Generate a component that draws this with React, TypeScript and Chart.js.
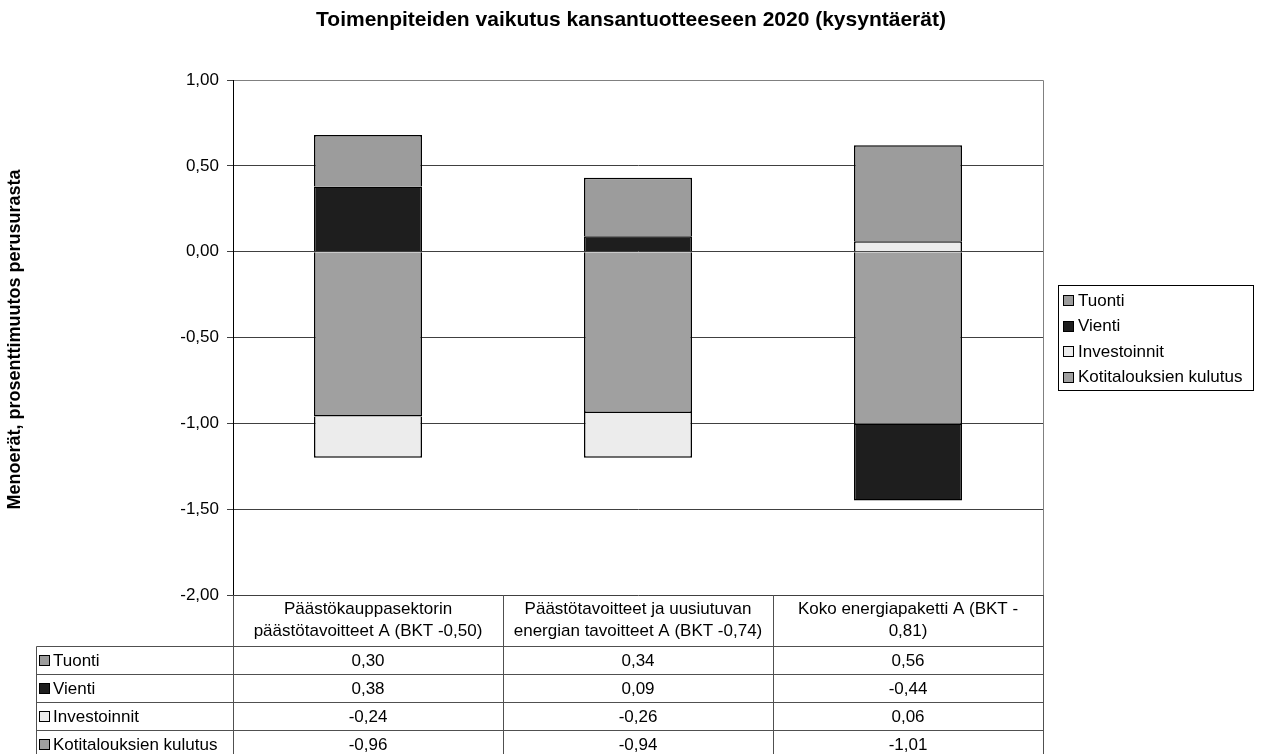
import React, { useEffect, useRef } from "react";
import { Chart, registerables } from "chart.js";

Chart.register(...registerables);

const TITLE = "Toimenpiteiden vaikutus kansantuotteeseen 2020 (kysyntäerät)";
const Y_TITLE = "Menoerät, prosenttimuutos perusurasta";

const categories: string[][] = [
  ["Päästökauppasektorin", "päästötavoitteet A (BKT -0,50)"],
  ["Päästötavoitteet ja uusiutuvan", "energian tavoitteet A (BKT -0,74)"],
  ["Koko energiapaketti A (BKT -", "0,81)"],
];

const seriesNames = ["Tuonti", "Vienti", "Investoinnit", "Kotitalouksien kulutus"];
const tuonti = [0.3, 0.34, 0.56];
const vienti = [0.38, 0.09, -0.44];
const investoinnit = [-0.24, -0.26, 0.06];
const kotitaloudet = [-0.96, -0.94, -1.01];
const seriesColors = ["#9c9c9c", "#1e1e1e", "#ececec", "#a0a0a0"];
const seriesValues = [tuonti, vienti, investoinnit, kotitaloudet];

const yMin = -2;
const yMax = 1;
const yStep = 0.5;

const FONT = "'Liberation Sans', Arial, sans-serif";

const fmt = (v: number) => v.toFixed(2).replace(".", ",");

const px = (v: number) => Math.round(v) + 0.5;

const decorPlugin = {
  id: "decor",
  beforeDatasetsDraw(chart: any) {
    const { ctx, chartArea } = chart;
    ctx.save();
    ctx.strokeStyle = "#808080";
    ctx.lineWidth = 1;
    ctx.beginPath();
    ctx.moveTo(px(chartArea.left), px(chartArea.top));
    ctx.lineTo(px(chartArea.right), px(chartArea.top));
    ctx.lineTo(px(chartArea.right), px(chartArea.bottom));
    ctx.stroke();
    ctx.restore();
  },
  afterDraw(chart: any) {
    const { ctx, chartArea } = chart;
    const xs = chart.scales.x;
    ctx.save();
    // title
    ctx.fillStyle = "#000";
    ctx.font = `bold 21px ${FONT}`;
    ctx.textAlign = "center";
    ctx.textBaseline = "middle";
    ctx.fillText(TITLE, 631, 20);

    // y axis title
    ctx.save();
    ctx.translate(15, (chartArea.top + chartArea.bottom) / 2 + 2);
    ctx.rotate(-Math.PI / 2);
    ctx.font = `bold 18px ${FONT}`;
    ctx.fillText(Y_TITLE, 0, 0);
    ctx.restore();

    // axis line on left
    ctx.strokeStyle = "#000";
    ctx.lineWidth = 1;
    ctx.beginPath();
    ctx.moveTo(px(chartArea.left), chartArea.top);
    ctx.lineTo(px(chartArea.left), chartArea.bottom);
    ctx.stroke();

    // data table
    const colW = (chartArea.right - chartArea.left) / categories.length;
    const tableTop = chartArea.bottom;
    const headerBottom = tableTop + 51;
    const rowH = 28;
    const tableLeft = 36;
    const tableBottom = headerBottom + rowH * seriesNames.length;
    ctx.strokeStyle = "#505050";
    for (let i = 0; i <= categories.length; i++) {
      const x = px(chartArea.left + colW * i);
      ctx.beginPath();
      ctx.moveTo(x, tableTop);
      ctx.lineTo(x, tableBottom);
      ctx.stroke();
    }
    ctx.beginPath();
    ctx.moveTo(px(tableLeft), px(headerBottom));
    ctx.lineTo(px(tableLeft), px(tableBottom));
    ctx.stroke();
    for (let r = 0; r <= seriesNames.length; r++) {
      const y = px(headerBottom + rowH * r);
      ctx.beginPath();
      ctx.moveTo(px(tableLeft), y);
      ctx.lineTo(px(chartArea.right), y);
      ctx.stroke();
    }
    // header labels
    ctx.fillStyle = "#000";
    ctx.font = `17px ${FONT}`;
    ctx.textAlign = "center";
    ctx.textBaseline = "middle";
    categories.forEach((lines, i) => {
      const cx = xs.getPixelForValue(i);
      lines.forEach((ln, j) => {
        ctx.fillText(ln, cx, tableTop + 14 + j * 22);
      });
    });
    // rows
    seriesNames.forEach((name, r) => {
      const cy = headerBottom + rowH * r + rowH / 2;
      ctx.fillStyle = seriesColors[r];
      ctx.fillRect(39.5, cy - 4.5, 10, 10);
      ctx.strokeStyle = "#000";
      ctx.strokeRect(39.5, cy - 4.5, 10, 10);
      ctx.fillStyle = "#000";
      ctx.textAlign = "left";
      ctx.fillText(name, 53, cy + 1);
      ctx.textAlign = "center";
      seriesValues[r].forEach((v, i) => {
        ctx.fillText(fmt(v), xs.getPixelForValue(i), cy + 1);
      });
    });

    // legend
    const lx = 1058, ly = 285, lw = 195, lh = 105;
    ctx.strokeStyle = "#000";
    ctx.strokeRect(lx + 0.5, ly + 0.5, lw, lh);
    seriesNames.forEach((name, r) => {
      const cy = ly + 15 + r * 25.5;
      ctx.fillStyle = seriesColors[r];
      ctx.fillRect(1063.5, Math.round(cy - 5) + 0.5, 10, 10);
      ctx.strokeStyle = "#000";
      ctx.strokeRect(1063.5, Math.round(cy - 5) + 0.5, 10, 10);
      ctx.fillStyle = "#000";
      ctx.textAlign = "left";
      ctx.fillText(name, 1078, cy + 1);
    });
    ctx.restore();
  },
};

export default function App() {
  const ref = useRef<HTMLCanvasElement | null>(null);
  useEffect(() => {
    if (!ref.current) return;
    // stacking order (base first): Kotitaloudet, Investoinnit, Vienti, Tuonti
    const stackOrder = [3, 2, 1, 0];
    const chart = new Chart(ref.current, {
      type: "bar",
      data: {
        labels: categories.map((c) => c.join(" ")),
        datasets: stackOrder.map((i) => ({
          label: seriesNames[i],
          data: seriesValues[i],
          backgroundColor: seriesColors[i],
          borderColor: "#000",
          borderWidth: 1.5,
          categoryPercentage: 1,
          barPercentage: 0.4,
        })),
      },
      options: {
        animation: false,
        responsive: false,
        devicePixelRatio: 1,
        layout: { padding: { top: 80, right: 220, bottom: 159, left: 0 } },
        plugins: {
          legend: { display: false },
          title: { display: false },
          tooltip: { enabled: false },
        },
        scales: {
          x: { stacked: true, display: false },
          y: {
            stacked: true,
            min: yMin,
            max: yMax,
            afterFit: (s: any) => {
              s.width = 233;
            },
            ticks: {
              stepSize: yStep,
              color: "#000",
              padding: 8,
              font: { family: FONT, size: 17 },
              callback: (v: any) => fmt(Number(v)),
            },
            grid: { color: "#404040", lineWidth: 1, tickLength: 6, drawTicks: true },
            border: { display: true, color: "#000" },
          },
        },
      },
      plugins: [decorPlugin],
    });
    return () => chart.destroy();
  }, []);
  return (
    <div style={{ position: "absolute", left: 0, top: 0, width: 1263, height: 754, background: "#fff" }}>
      <canvas ref={ref} width={1263} height={754} />
    </div>
  );
}
